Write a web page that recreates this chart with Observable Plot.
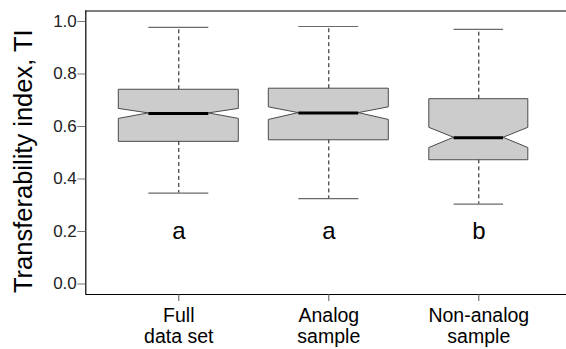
<!DOCTYPE html>
<html>
<head>
<meta charset="utf-8">
<script src="https://cdn.jsdelivr.net/npm/d3@7"></script>
<script src="https://cdn.jsdelivr.net/npm/@observablehq/plot@0.6"></script>
<style>
  html, body { margin: 0; padding: 0; background: #fff; overflow: hidden; }
</style>
</head>
<body>
<div id="chart"></div>
<script>
// ---- Data ----
const categories   = ["Full\ndata set", "Analog\nsample", "Non-analog\nsample"];
const whiskerLow   = [0.346, 0.325, 0.304];
const quartile1    = [0.543, 0.549, 0.473];
const notchLow     = [0.629, 0.625, 0.518];
const medians      = [0.650, 0.651, 0.557];
const notchHigh    = [0.667, 0.673, 0.595];
const quartile3    = [0.740, 0.744, 0.704];
const whiskerHigh  = [0.978, 0.981, 0.970];
const groupLetters = ["a", "a", "b"];
const letterY      = 0.2;
const yTicks       = [0.0, 0.2, 0.4, 0.6, 0.8, 1.0];
const yLabel       = "Transferability index, TI";

// ---- Layout / style settings ----
const W = 566, H = 349;
const xDomain = [0.38, 3.62];          // R-style 4% extension of [0.5, 3.5]
const yDomain = [-0.04, 1.04];         // R-style 4% extension of [0, 1]
const boxHalf = [0.40, 0.40, 0.33];    // drawn box half-widths (x units)
const font = "'Liberation Sans', Arial, Helvetica, sans-serif";

const boxes = categories.map((c, i) => ({
  pos: i + 1, cat: c, hw: boxHalf[i],
  lo: whiskerLow[i], q1: quartile1[i], nlo: notchLow[i], med: medians[i],
  nhi: notchHigh[i], q3: quartile3[i], hi: whiskerHigh[i], letter: groupLetters[i]
}));

// polygon outline rows for notched boxes (areaX: y -> [x1, x2])
const outline = boxes.flatMap(b => [
  {box: b.pos, y: b.q1,  x1: b.pos - b.hw,     x2: b.pos + b.hw},
  {box: b.pos, y: b.nlo, x1: b.pos - b.hw,     x2: b.pos + b.hw},
  {box: b.pos, y: b.med, x1: b.pos - b.hw / 2, x2: b.pos + b.hw / 2},
  {box: b.pos, y: b.nhi, x1: b.pos - b.hw,     x2: b.pos + b.hw},
  {box: b.pos, y: b.q3,  x1: b.pos - b.hw,     x2: b.pos + b.hw}
]);

const marginLeft = 85.3, marginTop = 10.5, marginBottom = 55;
const xScaleW = 150; // px per category unit
const chart = Plot.plot({
  width: W,
  height: H,
  marginLeft, marginTop, marginBottom, marginRight: 0,
  style: {fontFamily: font, background: "#fff", color: "#000"},
  x: {type: "linear", domain: xDomain,
      range: [marginLeft, marginLeft + (xDomain[1] - xDomain[0]) * xScaleW]},
  y: {domain: yDomain},
  marks: [
    // whiskers (dashed)
    Plot.ruleX(boxes, {x: "pos", y1: "q3", y2: "hi", stroke: "#111", strokeWidth: 1, strokeDasharray: "4,3"}),
    Plot.ruleX(boxes, {x: "pos", y1: "q1", y2: "lo", stroke: "#111", strokeWidth: 1, strokeDasharray: "4,3"}),
    // whisker caps
    Plot.ruleY(boxes, {y: "hi", x1: d => d.pos - d.hw / 2, x2: d => d.pos + d.hw / 2, stroke: "#6a6a6a", strokeWidth: 1.2}),
    Plot.ruleY(boxes, {y: "lo", x1: d => d.pos - d.hw / 2, x2: d => d.pos + d.hw / 2, stroke: "#6a6a6a", strokeWidth: 1.2}),
    // notched boxes
    Plot.areaX(outline, {y: "y", x1: "x1", x2: "x2", z: "box", fill: "#cccccc", stroke: "#4a4a4a", strokeWidth: 1, curve: "linear"}),
    // medians
    Plot.ruleY(boxes, {y: "med", x1: d => d.pos - d.hw / 2, x2: d => d.pos + d.hw / 2, stroke: "#000", strokeWidth: 3}),
    // group letters
    Plot.text(boxes, {x: "pos", y: () => letterY, text: "letter", fontSize: 24, fill: "#000"}),
    // plot frame (right side falls outside the window, as in the reference)
    Plot.ruleY(yDomain, {x1: xDomain[0], x2: xDomain[1], stroke: "#000", strokeWidth: 1.2}),
    Plot.ruleX([xDomain[0]], {y1: yDomain[0], y2: yDomain[1], stroke: "#000", strokeWidth: 1.2}),
    // axes
    Plot.axisY({ticks: yTicks, tickFormat: d3.format(".1f"), tickSize: 8, tickPadding: 1,
                fontSize: 17, stroke: "#777", fill: "#222", label: null}),
    Plot.axisX({ticks: boxes.map(b => b.pos), tickFormat: (d, i) => categories[i],
                tickSize: 7, tickPadding: 5, fontSize: 19.5, lineHeight: 1.1,
                stroke: "#555", fill: "#000", label: null}),
    // y axis title
    Plot.text([yLabel], {frameAnchor: "left", textAnchor: "middle", lineAnchor: "middle",
                         rotate: -90, dx: -62, dy: 8.5, fontSize: 25.5, fill: "#000"})
  ]
});
document.getElementById("chart").appendChild(chart);
</script>
</body>
</html>
